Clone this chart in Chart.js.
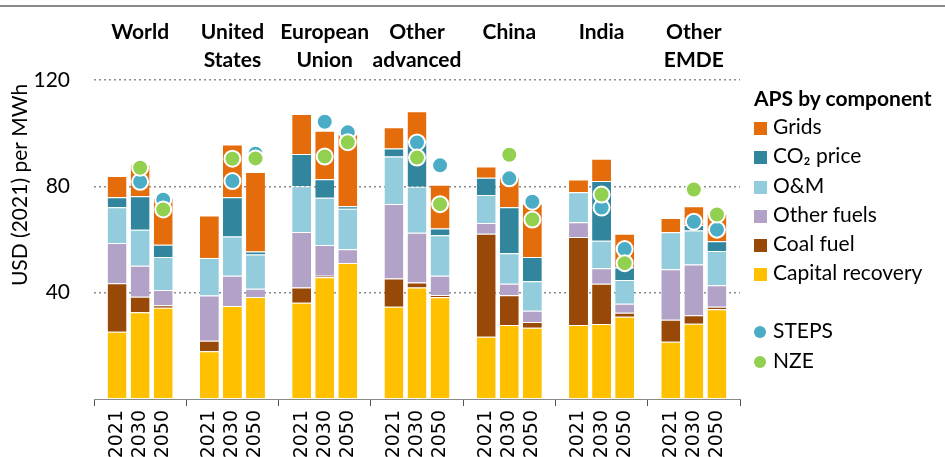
<!DOCTYPE html>
<html>
<head>
<meta charset="utf-8">
<script src="https://cdn.jsdelivr.net/npm/chart.js@4.4.1/dist/chart.umd.min.js"></script>
<style>
  body { margin: 0; background: #fff; }
  #wrap { position: relative; width: 945px; height: 457px; overflow: hidden; font-family: Lato, sans-serif; }
  #rule { position: absolute; left: 0; top: 5px; width: 945px; height: 2px; background: #8a8a8a; }
  #legend { position: absolute; left: 754px; top: 84px; font-size: 21px; color: #000; white-space: nowrap; }
  #legend .title { font-weight: bold; line-height: 27px; }
  #legend .item { height: 29.3px; line-height: 29.3px; }
  #legend .gap { height: 28.6px; }
  #legend .sw { display: inline-block; width: 13px; height: 13px; margin-right: 6px; vertical-align: -1px; }
  #legend .dot { display: inline-block; width: 12px; height: 12px; border-radius: 50%; margin-right: 7px; vertical-align: 0px; }
</style>
</head>
<body>
<div id="wrap">
  <div id="rule"></div>
  <canvas id="costChart" width="945" height="457"></canvas>
  <div id="legend"></div>
</div>
<script>
const regions = [["World"], ["United", "States"], ["European", "Union"], ["Other", "advanced"], ["China"], ["India"], ["Other", "EMDE"]];
const years = ["2021", "2030", "2050"];

// one value per region and year, in the order 2021, 2030, 2050
const capitalRecovery = [25.3, 32.6, 34.3, 18.0, 35.0, 38.4, 36.2, 45.8, 51.2, 34.7, 41.9, 38.3, 23.4, 27.8, 26.8, 27.8, 28.2, 30.9, 21.5, 28.3, 33.8];
const coalFuel = [18.2, 5.9, 1.0, 3.9, 0, 0, 5.7, 0.6, 0, 10.6, 1.9, 0.8, 38.8, 11.2, 2.2, 33.1, 15.2, 1.5, 8.3, 3.2, 0.9];
const otherFuels = [15.2, 11.6, 5.7, 17.0, 11.4, 3.1, 20.9, 11.5, 5.1, 28.1, 18.7, 7.3, 4.0, 4.4, 4.2, 5.6, 5.8, 3.4, 19.0, 19.1, 8.1];
const oAndM = [13.4, 13.6, 12.4, 14.1, 14.7, 12.9, 17.2, 17.8, 15.3, 17.8, 17.3, 15.2, 10.5, 11.4, 11.1, 11.3, 10.3, 9.0, 13.9, 12.8, 12.9];
const co2Price = [3.8, 12.6, 4.6, 0, 14.8, 1.1, 12.2, 7.0, 0.9, 3.0, 17.2, 2.5, 6.5, 17.3, 9.1, 0, 22.5, 4.7, 0, 2.1, 3.6];
const grids = [8.0, 11.9, 17.7, 16.0, 19.8, 29.9, 15.0, 18.2, 27.1, 8.0, 11.2, 16.5, 4.3, 11.5, 20.1, 4.8, 8.4, 12.7, 5.4, 7.0, 10.5];
const steps = [null, 81.7, 75.0, null, 82.0, 92.3, null, 104.3, 100.3, null, 96.5, 87.9, null, 83.0, 74.2, null, 72.0, 56.4, null, 66.7, 63.7];
const nze = [null, 87.0, 71.3, null, 90.4, 90.5, null, 91.2, 96.6, null, 90.8, 73.3, null, 91.9, 67.5, null, 76.9, 51.1, null, 78.8, 69.4];

const yTicks = [40, 80, 120];

// each region takes 4 slots on the x scale: 3 bars plus a half slot either side
const xPos = (k) => 4 * Math.floor(k / 3) + 1 + (k % 3);
const toPoints = (arr) => arr.map((v, k) => ({ x: xPos(k), y: v })).filter((p) => p.y !== null);

const components = [
  { label: "Capital recovery", data: capitalRecovery, color: "#ffc000" },
  { label: "Coal fuel", data: coalFuel, color: "#984807" },
  { label: "Other fuels", data: otherFuels, color: "#b3a2c7" },
  { label: "O&M", data: oAndM, color: "#93cddd" },
  { label: "CO₂ price", data: co2Price, color: "#31859c" },
  { label: "Grids", data: grids, color: "#e46c0a" },
];
const scenarios = [
  { label: "STEPS", data: steps, color: "#4bacc6" },
  { label: "NZE", data: nze, color: "#92d050" },
];

const datasets = [];
components.forEach((c) => {
  datasets.push({
    type: "bar",
    label: c.label,
    data: toPoints(c.data),
    backgroundColor: c.color,
    borderColor: "rgba(255,255,255,0.85)",
    borderWidth: { top: 1, left: 0, right: 0, bottom: 0 },
    borderSkipped: false,
    categoryPercentage: 1,
    barPercentage: 0.82,
    order: 3,
  });
});
scenarios.forEach((s, i) => {
  datasets.push({
    type: "scatter",
    label: s.label,
    data: toPoints(s.data),
    backgroundColor: s.color,
    borderColor: "#fff",
    pointRadius: 8,
    pointHoverRadius: 8,
    pointBorderWidth: 2,
    stack: "dots" + i,
    order: 2 - i,
  });
});

// region names above the groups and the rotated value title
const extraText = {
  id: "extraText",
  afterDraw(chart) {
    const { ctx } = chart;
    const x = chart.scales.x;
    ctx.save();
    ctx.fillStyle = "#000";
    ctx.textAlign = "center";
    ctx.textBaseline = "middle";
    ctx.font = "bold 21px Lato";
    regions.forEach((lines, g) => {
      const cx = x.getPixelForValue(4 * g + 2);
      lines.forEach((t, i) => ctx.fillText(t, cx, 32 + i * 28));
    });
    ctx.translate(20, 185);
    ctx.rotate(-Math.PI / 2);
    ctx.font = "21px Lato";
    ctx.fillText("USD (2021) per MWh", 0, 0);
    ctx.restore();
  },
};

new Chart(document.getElementById("costChart"), {
  data: { datasets },
  plugins: [extraText],
  options: {
    responsive: false,
    animation: false,
    events: [],
    layout: { padding: { top: 80, right: 205, left: 0, bottom: 0 } },
    plugins: { legend: { display: false }, tooltip: { enabled: false } },
    scales: {
      x: {
        type: "linear",
        min: 0,
        max: 28,
        offset: false,
        stacked: true,
        afterBuildTicks: (scale) => {
          const t = [];
          for (let v = 0; v <= 28; v++) t.push({ value: v });
          scale.ticks = t;
        },
        afterFit: (scale) => { scale.height = 58; },
        ticks: {
          autoSkip: false,
          minRotation: 90,
          maxRotation: 90,
          padding: 4,
          color: "#000",
          font: { family: "DejaVu Sans", size: 19 },
          callback: (v) => (v % 4 === 0 ? "" : years[(v % 4) - 1]),
        },
        grid: {
          offset: false,
          drawOnChartArea: false,
          drawTicks: true,
          tickLength: 7,
          tickWidth: 1,
          tickColor: (ctx) => (ctx.tick && ctx.tick.value % 4 === 0 ? "#555" : "rgba(0,0,0,0)"),
        },
        border: { display: true, color: "#8a8a8a", width: 1 },
      },
      y: {
        min: 0,
        max: 120,
        stacked: true,
        afterFit: (scale) => { scale.width = 94; },
        afterBuildTicks: (scale) => {
          scale.ticks = [0].concat(yTicks).map((v) => ({ value: v }));
        },
        ticks: {
          padding: 24,
          color: "#000",
          font: { family: "Lato", size: 21 },
          callback: (v) => (v === 0 ? "" : v),
        },
        grid: {
          drawTicks: false,
          lineWidth: 1.5,
          color: (ctx) => (ctx.tick && ctx.tick.value === 0 ? "rgba(0,0,0,0)" : "#8c8c8c"),
        },
        border: { display: false, dash: [2, 3] },
      },
    },
  },
});

// legend built from the same component and scenario lists
const legend = document.getElementById("legend");
let html = '<div class="title">APS by component</div>';
components.slice().reverse().forEach((c) => {
  html += `<div class="item"><span class="sw" style="background:${c.color}"></span>${c.label}</div>`;
});
html += '<div class="gap"></div>';
scenarios.forEach((s) => {
  html += `<div class="item"><span class="dot" style="background:${s.color}"></span>${s.label}</div>`;
});
legend.innerHTML = html;
</script>
</body>
</html>
